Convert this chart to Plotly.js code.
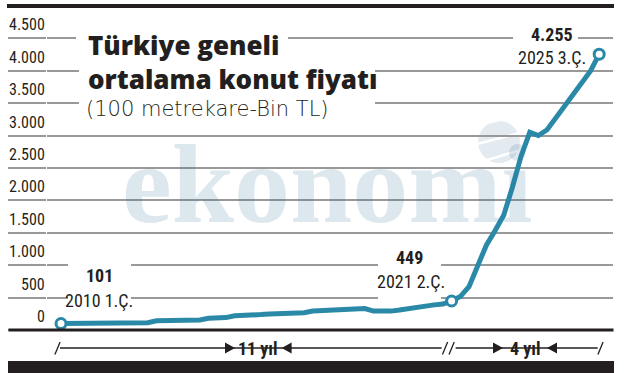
<!DOCTYPE html>
<html>
<head>
<meta charset="utf-8">
<script src="https://cdn.plot.ly/plotly-3.0.1.min.js"></script>
<style>
html,body{margin:0;padding:0;background:#ffffff;}
#chart{width:627px;height:373px;}
</style>
</head>
<body>
<div id="chart"></div>
<script>
// ---------- DATA ----------
const quarters = [];
for (let y = 2010; y <= 2025; y++) {
  for (let q = 1; q <= 4; q++) {
    if (y === 2025 && q > 3) break;
    quarters.push(y + ' ' + q + '.Ç.');
  }
}
// average house price, 100 m2, thousand TL
const prices = [
  101, 102, 103, 104, 105, 106, 107, 108, 109, 111,
  113, 143, 147, 149, 150, 152, 155, 183, 185, 193,
  220, 222, 224, 240, 250, 255, 260, 260, 267, 293,
  297, 301, 306, 313, 317, 332, 293, 289, 293, 309,
  324, 347, 370, 389, 401, 449, 517, 671, 978, 1310,
  1533, 1772, 2203, 2682, 3050, 3000, 3090, 3266, 3450, 3628,
  3797, 3997, 4255
];
const yTicks = [0, 500, 1000, 1500, 2000, 2500, 3000, 3500, 4000, 4500];
const highlighted = ['2010 1.Ç.', '2021 2.Ç.', '2025 3.Ç.'];
const periods = [
  { from: '2010 1.Ç.', to: '2021 2.Ç.', label: '11 yıl' },
  { from: '2021 2.Ç.', to: '2025 3.Ç.', label: '4 yıl' }
];
const titleLines = ['Türkiye geneli', 'ortalama konut fiyatı'];
const subtitleText = '(100 metrekare-Bin TL)';
const watermarkText = 'ekonomi';

// ---------- STYLE / LAYOUT ----------
const W = 627, H = 373;
const M = { l: 47, r: 14, t: 20, b: 39 };
const PW = W - M.l - M.r, PH = H - M.t - M.b;
const XR = [-1.613, 63.59];
const YR = [-60, 4782];
const catPx = PW / (XR[1] - XR[0]);
const px = v => (v - M.l) / PW;          // pixel x -> paper
const py = v => (H - M.b - v) / PH;      // pixel y -> paper
const BLUE = '#2b89a8';
const GRID = '#999999';
const INK = '#231f20';
const COND = '"Roboto Condensed", "DejaVu Sans Condensed", "Liberation Sans Narrow", "Arial Narrow", sans-serif';
const fmt = v => String(v).replace(/\B(?=(\d{3})+(?!\d))/g, '.');

const hiIdx = highlighted.map(q => quarters.indexOf(q));

const traces = [
  {
    type: 'scatter', mode: 'lines',
    x: quarters, y: prices,
    line: { color: BLUE, width: 5, shape: 'linear' },
    hoverinfo: 'skip'
  },
  {
    type: 'scatter', mode: 'markers',
    x: hiIdx.map(i => quarters[i]), y: hiIdx.map(i => prices[i]),
    marker: { size: 10, color: '#ffffff', line: { color: BLUE, width: 3 } },
    hoverinfo: 'skip'
  }
];

const shapes = [];
// globe of the watermark
shapes.push({
  type: 'circle', xref: 'paper', yref: 'paper', layer: 'below',
  x0: px(478), x1: px(520), y0: py(163), y1: py(121),
  line: { width: 0 }, fillcolor: '#e4ebf0'
});
[[-0.55, 0.25], [-0.1, 0.1], [0.35, -0.05]].forEach(s => shapes.push({
  type: 'line', xref: 'paper', yref: 'paper', layer: 'below',
  x0: px(478), x1: px(520), y0: py(142 + s[0] * 42 + 6), y1: py(142 + s[0] * 42 - 6 + s[1] * 10),
  line: { color: '#ffffff', width: 2.5 }
}));
// white boxes behind text
const boxes = [[76, 288, 28, 58], [79, 375, 62, 118], [68, 131, 259, 303], [378, 441, 246, 299.5], [513, 578, 25, 66]];
boxes.forEach(b => shapes.push({
  type: 'rect', xref: 'paper', yref: 'paper', layer: 'above',
  x0: px(b[0]), x1: px(b[1]), y0: py(b[3]), y1: py(b[2]),
  line: { width: 0 }, fillcolor: '#ffffff'
}));
// top & bottom bars, baseline
shapes.push({ type: 'rect', xref: 'paper', yref: 'paper', x0: px(7), x1: px(614), y0: py(8), y1: py(4), line: { width: 0 }, fillcolor: INK });
shapes.push({ type: 'rect', xref: 'paper', yref: 'paper', x0: px(8), x1: px(614), y0: py(374), y1: py(361), line: { width: 0 }, fillcolor: INK });
shapes.push({ type: 'line', xref: 'paper', yref: 'y', x0: px(8.5), x1: px(613.5), y0: 0, y1: 0, line: { color: INK, width: 3 } });

// period arrows row
const rowY = py(348);
const slash = (idx, dx) => ({
  type: 'line', xref: 'x', yref: 'paper', xsizemode: 'pixel', xanchor: idx,
  x0: dx - 2.6, x1: dx + 2.6, y0: py(354.5), y1: py(342), line: { color: INK, width: 1.3 }
});
const halfGap = [23.3, 22];
const annotations = [];
// watermark text (semi-transparent so grid and line show through)
annotations.push({ xref: 'paper', yref: 'paper', x: px(327), y: py(184.5), xanchor: 'center', yanchor: 'middle', showarrow: false,
  text: watermarkText, font: { family: '"Liberation Serif", "DejaVu Serif", serif', size: 112, color: 'rgba(40,105,150,0.16)', weight: 'bold' } });
periods.forEach((p, k) => {
  const a = quarters.indexOf(p.from), b = quarters.indexOf(p.to);
  const x0 = a + (k === 0 ? -1 : 4) / catPx;
  const x1 = b + (k === 0 ? -10 : -1.5) / catPx;
  shapes.push({ type: 'line', xref: 'x', yref: 'paper', x0: x0, x1: x1, y0: rowY, y1: rowY, line: { color: INK, width: 1.3 } });
  const mid = (a + b) / 2;
  const hg = halfGap[k];
  const sh = k === 0 ? 2 : -0.4;
  shapes.push({ type: 'path', xref: 'x', yref: 'paper', xsizemode: 'pixel', ysizemode: 'pixel', xanchor: mid, yanchor: rowY,
    path: `M ${sh - hg - 10},-5.5 L ${sh - hg},0 L ${sh - hg - 10},5.5 Z`, fillcolor: INK, line: { width: 0 } });
  shapes.push({ type: 'path', xref: 'x', yref: 'paper', xsizemode: 'pixel', ysizemode: 'pixel', xanchor: mid, yanchor: rowY,
    path: `M ${sh + hg + 10},-5.5 L ${sh + hg},0 L ${sh + hg + 10},5.5 Z`, fillcolor: INK, line: { width: 0 } });
  annotations.push({ xref: 'x', yref: 'paper', x: mid, y: rowY, xshift: sh, xanchor: 'center', yanchor: 'middle',
    text: '<b>' + p.label + '</b>', showarrow: false, font: { family: COND, size: 18, color: INK } });
  if (k === 0) shapes.push(slash(a, -3.5));
  if (k === 0) { shapes.push(slash(b, -6.6)); shapes.push(slash(b, 0)); }
  if (k === 1) shapes.push(slash(b, 1.3));
});

// y tick labels, right-aligned above each grid line
yTicks.forEach(t => annotations.push({
  xref: 'paper', yref: 'y', x: px(46.5), y: t, yshift: 13.5, xanchor: 'right', yanchor: 'middle', showarrow: false,
  text: fmt(t), font: { family: COND, size: 16, color: INK }
}));

// titles
annotations.push({ xref: 'paper', yref: 'paper', x: px(85.5), y: py(61.5), xanchor: 'left', yanchor: 'middle', showarrow: false,
  align: 'left', text: titleLines.join('<br>'),
  font: { family: '"Open Sans", "Noto Sans", sans-serif', size: 26, color: INK, weight: 800 } });
annotations.push({ xref: 'paper', yref: 'paper', x: px(84), y: py(109), xanchor: 'left', yanchor: 'middle', showarrow: false,
  text: subtitleText, font: { family: '"DejaVu Sans", sans-serif', size: 21, color: INK, weight: 200 } });

// data labels
const valOff = [[38.5, 47.6], [-42.6, 43], [-47.7, 19.4]];
const qOff = [[38, 22.6], [-41.1, 19.3], [-47.5, -3.1]];
hiIdx.forEach((i, k) => {
  annotations.push({ xref: 'x', yref: 'y', x: quarters[i], y: prices[i], xshift: valOff[k][0], yshift: valOff[k][1],
    xanchor: 'center', yanchor: 'middle', showarrow: false, text: '<b>' + fmt(prices[i]) + '</b>',
    font: { family: COND, size: 18, color: INK } });
  annotations.push({ xref: 'x', yref: 'y', x: quarters[i], y: prices[i], xshift: qOff[k][0], yshift: qOff[k][1],
    xanchor: 'center', yanchor: 'middle', showarrow: false, text: quarters[i],
    font: { family: COND, size: 18, color: INK } });
});

const layout = {
  width: W, height: H,
  margin: M,
  paper_bgcolor: '#ffffff', plot_bgcolor: '#ffffff',
  showlegend: false,
  xaxis: { type: 'category', range: XR, showgrid: false, showticklabels: false, ticks: '', zeroline: false, showline: false, fixedrange: true },
  yaxis: {
    range: YR, tickvals: yTicks,
    showgrid: true, gridcolor: GRID, gridwidth: 2,
    ticks: 'outside', ticklen: 38, tickwidth: 2, tickcolor: GRID,
    showticklabels: false,
    zeroline: false, showline: false, fixedrange: true
  },
  shapes: shapes,
  annotations: annotations,
  hovermode: false
};

Plotly.newPlot('chart', traces, layout, { displayModeBar: false });
</script>
</body>
</html>
